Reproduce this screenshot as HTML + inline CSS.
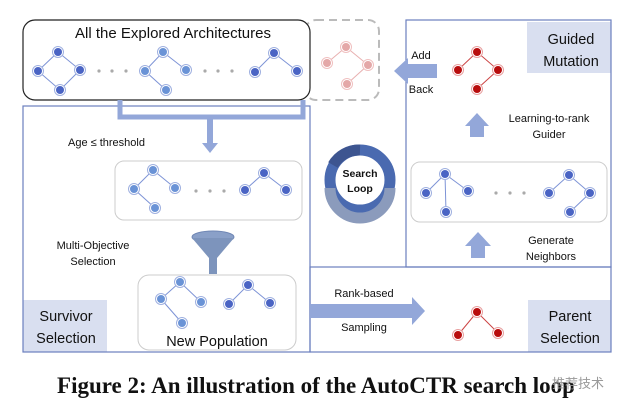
<!DOCTYPE html>
<html><head><style>
body{margin:0;background:#fff;}
svg{display:block;}
text{font-family:"Liberation Sans","DejaVu Sans",sans-serif;}
</style></head><body>
<svg width="627" height="413" viewBox="0 0 627 413" xmlns="http://www.w3.org/2000/svg">
<defs>
<g id="nb"><circle r="5.5" fill="#fff" stroke="#9fb0e0" stroke-width="1"/><circle r="4" fill="#4a64c4"/></g>
<g id="nl"><circle r="5.5" fill="#fff" stroke="#9fb0e0" stroke-width="1"/><circle r="4" fill="#6a93d6"/></g>
<g id="nr"><circle r="5.5" fill="#fff" stroke="#e8a0a0" stroke-width="1"/><circle r="4" fill="#b80d0d"/></g>
<g id="np"><circle r="5.5" fill="#fff" stroke="#f0c0c0" stroke-width="1"/><circle r="4" fill="#e4a8a8"/></g>
</defs>
<rect x="527" y="22" width="84" height="51" fill="#d9dff0"/>
<rect x="23" y="300" width="84" height="52" fill="#d9dff0"/>
<rect x="528" y="300" width="83" height="52" fill="#d9dff0"/>
<g fill="none" stroke="#6b7fbf" stroke-width="1.2">
<rect x="23" y="106" width="287" height="246"/>
<rect x="406" y="20" width="205" height="247"/>
<rect x="310" y="267" width="301" height="85"/>
</g>
<rect x="305" y="20" width="74" height="80" rx="11" fill="none" stroke="#bbb" stroke-width="2" stroke-dasharray="8,5"/>
<rect x="23" y="20" width="287" height="80" rx="12" fill="#fff" stroke="#222" stroke-width="1.2"/>
<path d="M120 100 V117 H303 V100" fill="none" stroke="#93a7d9" stroke-width="5"/>
<rect x="207" y="117" width="6" height="28" fill="#93a7d9"/>
<polygon points="202,143 218,143 210,153" fill="#93a7d9"/>
<rect x="115" y="161" width="187" height="59" rx="9" fill="#fff" stroke="#ccc"/>
<rect x="138" y="275" width="158" height="75" rx="11" fill="#fff" stroke="#ccc"/>
<rect x="411" y="162" width="196" height="60" rx="9" fill="#fff" stroke="#ccc"/>
<text x="173" y="38" font-size="15" text-anchor="middle" fill="#111">All the Explored Architectures</text>
<text x="68" y="146" font-size="11" fill="#111">Age ≤ threshold</text>
<text x="93" y="249" font-size="11" text-anchor="middle" fill="#111">Multi-Objective</text>
<text x="93" y="265" font-size="11" text-anchor="middle" fill="#111">Selection</text>
<text x="217" y="346" font-size="14.5" text-anchor="middle" fill="#111">New Population</text>
<text x="66" y="321" font-size="14.5" text-anchor="middle" fill="#111">Survivor</text>
<text x="66" y="343" font-size="14.5" text-anchor="middle" fill="#111">Selection</text>
<text x="570" y="321" font-size="14.5" text-anchor="middle" fill="#111">Parent</text>
<text x="570" y="343" font-size="14.5" text-anchor="middle" fill="#111">Selection</text>
<text x="571" y="44" font-size="14.5" text-anchor="middle" fill="#111">Guided</text>
<text x="571" y="66" font-size="14.5" text-anchor="middle" fill="#111">Mutation</text>
<text x="421" y="59" font-size="11" text-anchor="middle" fill="#111">Add</text>
<text x="421" y="93" font-size="11" text-anchor="middle" fill="#111">Back</text>
<text x="549" y="122" font-size="11" text-anchor="middle" fill="#111">Learning-to-rank</text>
<text x="549" y="138" font-size="11" text-anchor="middle" fill="#111">Guider</text>
<text x="551" y="244" font-size="11" text-anchor="middle" fill="#111">Generate</text>
<text x="551" y="260" font-size="11" text-anchor="middle" fill="#111">Neighbors</text>
<text x="364" y="297" font-size="11" text-anchor="middle" fill="#111">Rank-based</text>
<text x="364" y="331" font-size="11" text-anchor="middle" fill="#111">Sampling</text>
<polygon points="437,64 408,64 408,58 394,71 408,84 408,78 437,78" fill="#93a7d9"/>
<polygon points="470,137 470,126 465,126 477,113 489,126 484,126 484,137" fill="#93a7d9"/>
<polygon points="471,258 471,246 465,246 478,232 491,246 485,246 485,258" fill="#93a7d9"/>
<polygon points="310,304 412,304 412,297 425,311 412,325 412,318 310,318" fill="#93a7d9"/>
<ellipse cx="213" cy="237" rx="21" ry="6" fill="#8aa0c8" stroke="#6f86b4"/>
<polygon points="192,238 234,238 217,258 209,258" fill="#7d94bc"/>
<rect x="209" y="257" width="8" height="17" fill="#7d94bc"/>
<circle cx="360" cy="180" r="30" fill="none" stroke="#4a6ab0" stroke-width="11"/>
<path d="M330 188 A30 30 0 0 0 390 188" fill="none" stroke="#8b9bbc" stroke-width="11"/>
<path d="M333 165 A30 30 0 0 1 360 150" fill="none" stroke="#3d5590" stroke-width="11"/>
<circle cx="360" cy="180" r="24" fill="#fff"/>
<text x="360" y="177" font-size="10.5" font-weight="bold" text-anchor="middle" fill="#111">Search</text>
<text x="360" y="192" font-size="10.5" font-weight="bold" text-anchor="middle" fill="#111">Loop</text>
<g stroke="#7d93d6" stroke-width="1" fill="none">
<path d="M58 52 L38 71 L60 90 L80 70 Z"/>
<path d="M145 71 L163 52 L186 70 M145 71 L166 90"/>
<path d="M255 72 L274 53 L297 71"/>
<path d="M134 189 L153 170 L175 188 M134 189 L155 208"/>
<path d="M245 190 L264 173 L286 190"/>
<path d="M161 299 L180 282 L201 302 M161 299 L182 323"/>
<path d="M229 304 L248 285 L270 303"/>
<path d="M426 193 L445 174 L468 191 M445 174 L446 212"/>
<path d="M549 193 L569 175 L590 193 L570 212"/>
</g>
<g stroke="#c44" stroke-width="1" fill="none"><path d="M458 70 L477 52 L498 70 L477 89"/><path d="M458 335 L477 312 L498 333"/></g>
<g stroke="#e8b0b0" stroke-width="1" fill="none"><path d="M327 63 L346 47 L368 65 L347 84"/></g>
<use href="#nb" x="58" y="52"/><use href="#nb" x="38" y="71"/><use href="#nb" x="80" y="70"/><use href="#nb" x="60" y="90"/>
<use href="#nl" x="163" y="52"/><use href="#nl" x="145" y="71"/><use href="#nl" x="186" y="70"/><use href="#nl" x="166" y="90"/>
<use href="#nb" x="274" y="53"/><use href="#nb" x="255" y="72"/><use href="#nb" x="297" y="71"/>
<use href="#nl" x="153" y="170"/><use href="#nl" x="134" y="189"/><use href="#nl" x="175" y="188"/><use href="#nl" x="155" y="208"/>
<use href="#nb" x="264" y="173"/><use href="#nb" x="245" y="190"/><use href="#nb" x="286" y="190"/>
<use href="#nl" x="180" y="282"/><use href="#nl" x="161" y="299"/><use href="#nl" x="201" y="302"/><use href="#nl" x="182" y="323"/>
<use href="#nb" x="248" y="285"/><use href="#nb" x="229" y="304"/><use href="#nb" x="270" y="303"/>
<use href="#nb" x="445" y="174"/><use href="#nb" x="426" y="193"/><use href="#nb" x="468" y="191"/><use href="#nb" x="446" y="212"/>
<use href="#nb" x="569" y="175"/><use href="#nb" x="549" y="193"/><use href="#nb" x="590" y="193"/><use href="#nb" x="570" y="212"/>
<use href="#nr" x="477" y="52"/><use href="#nr" x="458" y="70"/><use href="#nr" x="498" y="70"/><use href="#nr" x="477" y="89"/>
<use href="#nr" x="477" y="312"/><use href="#nr" x="458" y="335"/><use href="#nr" x="498" y="333"/>
<use href="#np" x="346" y="47"/><use href="#np" x="327" y="63"/><use href="#np" x="368" y="65"/><use href="#np" x="347" y="84"/>
<g fill="#aaa">
<circle cx="99" cy="71" r="1.6"/><circle cx="112" cy="71" r="1.6"/><circle cx="126" cy="71" r="1.6"/>
<circle cx="205" cy="71" r="1.6"/><circle cx="218" cy="71" r="1.6"/><circle cx="232" cy="71" r="1.6"/>
<circle cx="196" cy="191" r="1.6"/><circle cx="210" cy="191" r="1.6"/><circle cx="224" cy="191" r="1.6"/>
<circle cx="496" cy="193" r="1.6"/><circle cx="510" cy="193" r="1.6"/><circle cx="524" cy="193" r="1.6"/>
</g>
<text x="316" y="393" font-size="23" font-weight="bold" text-anchor="middle" fill="#111" style="font-family:'Liberation Serif',serif">Figure 2: An illustration of the AutoCTR search loop</text>
<text x="552" y="388" font-size="13" fill="#999" style="font-family:'Liberation Sans','Noto Sans CJK SC',sans-serif">推荐技术</text>
</svg>
</body></html>
